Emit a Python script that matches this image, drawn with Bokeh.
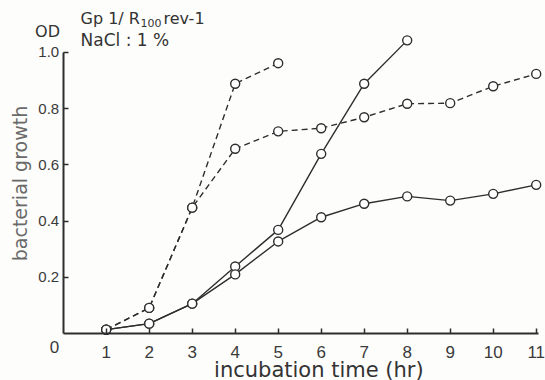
import math
from bokeh.plotting import figure
from bokeh.models import FixedTicker, Label, ColumnDataSource
from bokeh.embed import file_html
from bokeh.resources import INLINE

# data (incubation time in hr, bacterial growth OD)
time_a = [1, 2, 3, 4, 5]
od_a = [0.015, 0.092, 0.448, 0.888, 0.961]          # dashed, stops at 5 h
time_b = [1, 2, 3, 4, 5, 6, 7, 8, 9, 10, 11]
od_b = [0.015, 0.092, 0.448, 0.657, 0.719, 0.730, 0.769, 0.817, 0.819, 0.879, 0.923]  # dashed
time_c = [1, 2, 3, 4, 5, 6, 7, 8]
od_c = [0.015, 0.036, 0.107, 0.239, 0.369, 0.639, 0.888, 1.042]  # solid, steep
time_d = [1, 2, 3, 4, 5, 6, 7, 8, 9, 10, 11]
od_d = [0.015, 0.036, 0.107, 0.211, 0.328, 0.414, 0.462, 0.488, 0.473, 0.497, 0.529]  # solid, lower

x_ticks = [1, 2, 3, 4, 5, 6, 7, 8, 9, 10, 11]
y_ticks = [0.2, 0.4, 0.6, 0.8, 1.0]
y_tick_labels = ["0.2", "0.4", "0.6", "0.8", "1.0"]

INK = "#2e2e2e"
FONT = "Liberation Sans"
TFONT = "DejaVu Sans"
W, H = 545, 380

# frame fills the whole canvas; axes are pinned at the origin
p = figure(width=W, height=H, x_range=(-1.4581, 11.2163), y_range=(-0.16584, 1.18359),
           output_backend="svg", toolbar_location=None,
           min_border_left=0, min_border_right=0, min_border_top=0, min_border_bottom=0)
p.background_fill_color = "#fdfdfb"
p.border_fill_color = "#fdfdfb"
p.outline_line_color = None
p.grid.visible = False

for ax in (p.xaxis[0], p.yaxis[0]):
    ax.fixed_location = 0
    ax.axis_line_color = INK
    ax.axis_line_width = 2
    ax.major_tick_line_color = INK
    ax.major_tick_line_width = 1.5
    ax.major_tick_in = 5
    ax.major_tick_out = 0
    ax.minor_tick_line_color = None
    ax.major_label_text_font = FONT
    ax.major_label_text_color = "#3a3a3a"

p.xaxis.ticker = FixedTicker(ticks=x_ticks)
p.xaxis.bounds = (0, 11.05)
p.xaxis.major_label_text_font_size = "17px"
p.xaxis.major_label_standoff = 12

p.yaxis.ticker = FixedTicker(ticks=y_ticks)
p.yaxis.major_label_overrides = {t: s for t, s in zip(y_ticks, y_tick_labels)}
p.yaxis.bounds = (0, 1.0)
p.yaxis.major_label_text_font_size = "15px"
p.yaxis.major_label_standoff = 4

series = [
    (time_a, od_a, "6 4"),
    (time_b, od_b, "6 4"),
    (time_c, od_c, "solid"),
    (time_d, od_d, "solid"),
]
for xs, ys, dash in series:
    src = ColumnDataSource(data=dict(x=xs, y=ys))
    p.line("x", "y", source=src, line_color=INK, line_width=1.4, line_dash=dash)
    p.scatter("x", "y", source=src, size=9, fill_color="white", line_color=INK, line_width=1.4)

# texts (screen units measured from the frame's bottom-left corner = canvas bottom-left)
def lab(cx, cy, text, size, color="#333333", angle=0.0, align="left", baseline="middle", font=TFONT):
    p.add_layout(Label(x=cx, y=H - cy, x_units="screen", y_units="screen", text=text,
                       text_font=font, text_font_size=size, text_color=color,
                       angle=angle, text_align=align, text_baseline=baseline))

lab(47, 31, "OD", "16px", align="center")
lab(80, 18, "Gp 1/ R", "16px")
lab(140, 22, "100", "11px")
lab(163, 18, "rev-1", "16px")
lab(80, 39, "NaCl : 1 %", "17px")
lab(19, 180, "bacterial  growth", "19px", color="#6a6a6a", angle=math.pi / 2, align="center")
lab(325, 369, "incubation   time (hr)", "21px", align="center")
lab(54, 346, "0", "17px", color="#3a3a3a", align="center", font=FONT)

open("out.html", "w").write(file_html(p, INLINE))
